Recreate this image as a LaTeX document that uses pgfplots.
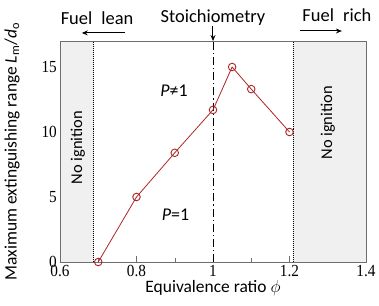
\documentclass[border=0pt]{standalone}
\usepackage{fontspec}
\setmainfont{Carlito}
\newfontfamily\tnr[FakeStretch=0.9]{Liberation Serif}
\usepackage{pgfplots}
\pgfplotsset{compat=1.18}
\usetikzlibrary{arrows.meta}
\definecolor{dred}{RGB}{172,38,38}
\definecolor{lgray}{RGB}{240,240,240}
\definecolor{framegray}{RGB}{110,110,110}
\begin{document}
\begin{tikzpicture}
\begin{axis}[
  at={(0,0)}, anchor=south west,
  scale only axis, width=306bp, height=221bp,
  xmin=0.6, xmax=1.4, ymin=0, ymax=17,
  xtick={0.6,0.8,1,1.2,1.4}, xticklabels={0.6,0.8,1,1.2,1.4},
  minor x tick num=1,
  ytick={0,5,10,15}, yticklabels={0,5,10,15}, minor y tick num=4,
  tick pos=left, tick align=inside,
  major tick length=6bp, minor tick length=4bp,
  tick style={framegray},
  /pgf/number format/assume math mode=true,
  ticklabel style={font=\tnr\fontsize{17}{18}\selectfont, inner sep=1pt},
  xticklabel style={anchor=north, yshift=-2pt},
  yticklabel style={anchor=east, xshift=-2pt},
  xlabel={Equivalence ratio $\phi$},
  ylabel={Maximum extinguishing range \textit{L}\textsubscript{m}/\textit{d}\textsubscript{o}},
  label style={font=\fontsize{17.5}{18}\selectfont},
  xlabel style={at={(axis description cs:0.5,-0.118)}, anchor=center},
  ylabel style={at={(axis description cs:-0.157,0.5)}, anchor=center},
  axis line style={framegray},
  clip=false,
]
\fill[lgray] (axis cs:0.6,0) rectangle (axis cs:0.688,17);
\fill[lgray] (axis cs:1.21,0) rectangle (axis cs:1.4,17);
\draw[dash pattern=on 1pt off 1pt, line width=1.2pt] (axis cs:0.688,0) -- (axis cs:0.688,17);
\draw[dash pattern=on 1pt off 1pt, line width=1.2pt] (axis cs:1.21,0) -- (axis cs:1.21,17);
\draw[dash pattern=on 8pt off 3pt on 1.2pt off 3pt, line width=0.9pt] (axis cs:1,0) -- (axis cs:1,17);
\draw[framegray] (axis cs:0.6,0) rectangle (axis cs:1.4,17);
\addplot[dred, line width=0.8pt, mark=o, mark size=3.8pt, mark options={solid, line width=0.9pt}] coordinates {
  (0.7,0) (0.8,5) (0.9,8.4) (1.0,11.7) (1.05,15) (1.1,13.3) (1.2,10)
};
\node[rotate=90, font=\fontsize{16.5}{17}\selectfont] at (axis cs:0.647,8.8) {No ignition};
\node[rotate=90, font=\fontsize{16.5}{17}\selectfont] at (axis cs:1.30,10.7) {No ignition};
\node[font=\fontsize{18}{19}\selectfont] at (axis cs:0.898,13.2) {\textit{P}≠1};
\node[font=\fontsize{18}{19}\selectfont] at (axis cs:0.902,3.6) {\textit{P}=1};
\node[font=\fontsize{18.5}{19}\selectfont] at (axis cs:0.697,18.77) {Fuel\enspace lean};
\draw[-{Stealth[length=6pt,width=5pt]}, line width=1pt] (axis cs:0.770,17.62) -- (axis cs:0.657,17.62);
\node[font=\fontsize{18.5}{19}\selectfont] at (axis cs:1.0,18.77) {Stoichiometry};
\draw[-{Stealth[length=6pt,width=5pt]}, line width=1pt] (axis cs:1.0,18.15) -- (axis cs:1.0,17);
\node[font=\fontsize{18.5}{19}\selectfont] at (axis cs:1.324,19.0) {Fuel\enspace rich};
\draw[-{Stealth[length=6pt,width=5pt]}, line width=1pt] (axis cs:1.227,17.77) -- (axis cs:1.337,17.77);
\end{axis}
\pgfresetboundingbox
\path (-60bp,-44bp) rectangle (319bp,262bp);
\end{tikzpicture}
\end{document}
